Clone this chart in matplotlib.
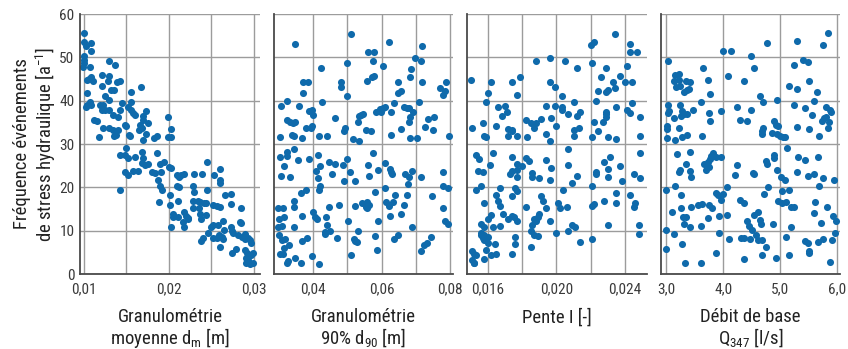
import matplotlib.pyplot as plt
from matplotlib import font_manager

# panel 1: granulometrie moyenne dm [m]
dm = [0.0100, 0.0100, 0.0108, 0.0102, 0.0109, 0.0100, 0.0100, 0.0100, 0.0099, 0.0107,
      0.0129, 0.0137, 0.0104, 0.0109, 0.0111, 0.0106, 0.0121, 0.0130, 0.0128, 0.0139,
      0.0142, 0.0121, 0.0132, 0.0135, 0.0104, 0.0156, 0.0167, 0.0125, 0.0130, 0.0107,
      0.0104, 0.0109, 0.0103, 0.0145, 0.0156, 0.0119, 0.0123, 0.0121, 0.0125, 0.0130,
      0.0134, 0.0140, 0.0143, 0.0152, 0.0156, 0.0158, 0.0160, 0.0173, 0.0170, 0.0169,
      0.0112, 0.0115, 0.0122, 0.0130, 0.0134, 0.0140, 0.0136, 0.0138, 0.0148, 0.0150,
      0.0166, 0.0165, 0.0168, 0.0175, 0.0154, 0.0153, 0.0118, 0.0173, 0.0182, 0.0186,
      0.0199, 0.0203, 0.0199, 0.0203, 0.0170,
      0.0149, 0.0143, 0.0148, 0.0152, 0.0160, 0.0148, 0.0152, 0.0158, 0.0164, 0.0142,
      0.0168, 0.0170, 0.0168, 0.0175, 0.0172, 0.0186, 0.0180, 0.0184, 0.0190, 0.0194,
      0.0191, 0.0200, 0.0202, 0.0187, 0.0190, 0.0192, 0.0188, 0.0210, 0.0214, 0.0218,
      0.0212, 0.0229, 0.0239, 0.0253, 0.0245, 0.0260, 0.0260, 0.0260, 0.0210, 0.0212,
      0.0228, 0.0230, 0.0201, 0.0201, 0.0211, 0.0245, 0.0228, 0.0234, 0.0236, 0.0241,
      0.0243, 0.0228, 0.0235, 0.0252, 0.0257, 0.0260, 0.0266, 0.0273, 0.0273, 0.0285,
      0.0205, 0.0205, 0.0211, 0.0218, 0.0220, 0.0222, 0.0236, 0.0238, 0.0243, 0.0216,
      0.0222, 0.0203, 0.0218, 0.0252, 0.0249, 0.0258, 0.0264, 0.0246, 0.0240, 0.0238,
      0.0252, 0.0256, 0.0259, 0.0262, 0.0265, 0.0264, 0.0260, 0.0273, 0.0275, 0.0274,
      0.0283, 0.0285, 0.0281, 0.0286, 0.0289, 0.0289, 0.0293, 0.0297, 0.0295, 0.0279,
      0.0274, 0.0289, 0.0292, 0.0291, 0.0297, 0.0299, 0.0291, 0.0295, 0.0299, 0.0293]
freq_dm = [55.7, 53.6, 53.2, 52.6, 51.5, 50.2, 49.4, 48.6, 47.7, 47.7,
           49.2, 48.2, 44.8, 45.4, 44.6, 44.9, 45.9, 45.7, 44.6, 44.4,
           44.5, 43.4, 42.5, 42.4, 41.7, 42.1, 43.1, 41.1, 40.2, 39.8,
           39.0, 39.1, 38.6, 39.5, 39.8, 39.0, 39.0, 37.8, 37.8, 37.8,
           36.7, 36.3, 37.8, 38.5, 37.8, 37.1, 36.7, 37.7, 36.5, 35.5,
           35.5, 35.2, 33.6, 33.6, 33.2, 33.2, 31.9, 32.1, 34.4, 34.2,
           34.4, 33.2, 33.8, 34.8, 31.9, 32.1, 31.7, 32.3, 31.3, 31.9,
           36.2, 33.4, 31.7, 31.7, 30.9,
           29.0, 27.5, 27.5, 26.7, 27.1, 23.6, 22.8, 23.8, 23.8, 19.5,
           28.1, 26.7, 25.6, 25.4, 25.2, 28.0, 23.6, 23.4, 25.5, 25.9,
           23.6, 24.8, 24.4, 21.7, 20.2, 19.4, 16.7, 22.8, 22.8, 23.0,
           22.3, 23.1, 23.1, 22.8, 25.9, 24.2, 21.7, 20.9, 20.2, 20.0,
           20.3, 19.0, 18.2, 15.9, 16.9, 19.5, 16.8, 16.8, 16.6, 16.5,
           16.3, 15.3, 15.3, 15.9, 15.7, 15.5, 18.2, 18.5, 16.2, 15.3,
           13.9, 13.1, 13.2, 14.4, 13.4, 13.0, 13.8, 12.6, 13.6, 12.1,
           12.8, 10.9, 10.9, 11.3, 10.8, 11.3, 12.3, 9.5, 8.2, 7.7,
           8.2, 8.2, 9.0, 8.6, 10.1, 8.0, 6.2, 10.9, 9.4, 10.0,
           12.1, 11.7, 9.0, 8.5, 9.2, 8.0, 8.4, 7.2, 7.9, 5.7,
           4.8, 5.5, 4.8, 3.6, 4.4, 4.8, 2.6, 2.3, 2.6, 3.2]

# panel 2: granulometrie 90% d90 [m]
d90 = [0.0347, 0.0510, 0.0621, 0.0717, 0.0560, 0.0579, 0.0500, 0.0576, 0.0605, 0.0697,
       0.0714, 0.0423, 0.0686, 0.0683, 0.0717, 0.0372, 0.0384, 0.0482, 0.0482, 0.0557,
       0.0571, 0.0579, 0.0649, 0.0647, 0.0657, 0.0372, 0.0500, 0.0788, 0.0771, 0.0785,
       0.0780, 0.0323, 0.0307, 0.0425, 0.0360, 0.0388, 0.0396, 0.0401, 0.0708, 0.0635,
       0.0596, 0.0605, 0.0610, 0.0598, 0.0583, 0.0627, 0.0664, 0.0674, 0.0679, 0.0691,
       0.0325, 0.0333, 0.0340, 0.0347, 0.0465, 0.0535, 0.0540, 0.0545, 0.0532, 0.0683,
       0.0681, 0.0735, 0.0754, 0.0727, 0.0749, 0.0657, 0.0379, 0.0393, 0.0398, 0.0493,
       0.0489, 0.0555, 0.0568, 0.0304, 0.0338, 0.0343, 0.0367, 0.0416, 0.0440, 0.0515,
       0.0534, 0.0627, 0.0683, 0.0703, 0.0795,
       0.0343, 0.0304, 0.0323, 0.0323, 0.0316, 0.0307, 0.0333, 0.0357, 0.0389, 0.0414,
       0.0420, 0.0409, 0.0445, 0.0463, 0.0487, 0.0498, 0.0454, 0.0414, 0.0420, 0.0416,
       0.0491, 0.0507, 0.0522, 0.0559, 0.0576, 0.0564, 0.0588, 0.0611, 0.0624, 0.0626,
       0.0629, 0.0611, 0.0581, 0.0667, 0.0681, 0.0688, 0.0678, 0.0714, 0.0780, 0.0779,
       0.0792, 0.0364, 0.0380, 0.0343, 0.0345, 0.0299, 0.0311, 0.0302, 0.0316, 0.0299,
       0.0308, 0.0369, 0.0400, 0.0406, 0.0410, 0.0445, 0.0437, 0.0441, 0.0436, 0.0448,
       0.0345, 0.0477, 0.0503, 0.0522, 0.0543, 0.0557, 0.0555, 0.0562, 0.0557, 0.0532,
       0.0588, 0.0581, 0.0614, 0.0620, 0.0633, 0.0639, 0.0624, 0.0664, 0.0673, 0.0657,
       0.0688, 0.0746, 0.0779, 0.0785, 0.0792, 0.0302, 0.0308, 0.0318, 0.0331, 0.0316,
       0.0304, 0.0311, 0.0328, 0.0325, 0.0347, 0.0364, 0.0367, 0.0383, 0.0396, 0.0418,
       0.0435, 0.0469, 0.0510, 0.0518, 0.0522, 0.0529, 0.0586, 0.0637, 0.0649, 0.0714,
       0.0724, 0.0731, 0.0745]
freq_d90 = [53.0, 55.5, 53.5, 52.7, 51.3, 51.3, 48.8, 49.1, 48.0, 49.9,
            49.2, 47.5, 47.4, 45.5, 44.4, 44.4, 44.2, 44.4, 43.2, 44.6,
            45.5, 45.7, 44.4, 41.8, 42.2, 41.7, 41.0, 44.2, 43.0, 42.3,
            41.3, 40.0, 38.8, 39.6, 38.8, 37.6, 37.8, 36.8, 39.6, 39.4,
            38.0, 38.2, 38.5, 37.5, 37.5, 37.5, 38.6, 38.3, 38.2, 37.5,
            35.5, 35.1, 34.9, 35.0, 36.0, 36.5, 36.8, 37.0, 35.0, 36.2,
            35.0, 35.7, 36.3, 34.0, 33.2, 33.5, 33.8, 33.6, 34.2, 33.6,
            33.0, 33.2, 33.1, 31.7, 32.0, 31.8, 31.5, 31.8, 31.8, 31.1,
            30.8, 32.0, 31.5, 31.5, 31.8,
            28.8, 27.0, 27.2, 28.1, 25.0, 22.7, 22.5, 26.3, 26.5, 27.5,
            25.0, 23.8, 25.9, 25.4, 25.2, 26.5, 23.0, 22.1, 20.3, 19.4,
            21.5, 23.5, 21.5, 25.2, 28.0, 22.7, 24.0, 25.7, 24.2, 23.5,
            23.1, 19.9, 19.0, 23.0, 22.3, 23.8, 20.8, 22.5, 23.5, 20.2,
            19.9, 18.8, 19.4, 16.9, 15.5, 15.2, 15.2, 12.6, 13.1, 10.8,
            11.1, 13.5, 14.2, 13.2, 12.7, 15.4, 13.2, 11.3, 9.6, 10.0,
            10.8, 15.9, 12.2, 15.8, 16.5, 16.7, 15.5, 16.0, 15.3, 10.0,
            12.2, 8.8, 16.7, 15.7, 16.7, 18.2, 13.5, 15.9, 18.2, 13.8,
            10.9, 18.0, 15.2, 12.2, 11.5, 9.0, 7.8, 8.1, 6.7, 5.9,
            4.6, 4.6, 3.1, 2.6, 3.6, 2.5, 7.7, 8.2, 4.2, 2.3,
            9.2, 8.2, 4.4, 8.0, 7.7, 7.5, 5.5, 8.0, 9.0, 5.2,
            6.7, 7.1, 8.5]

# panel 3: pente I [-]
pente = [0.0234, 0.0220, 0.0222, 0.0243, 0.0243, 0.0247, 0.0188, 0.0196, 0.0205, 0.0221,
         0.0212, 0.0229, 0.0241, 0.0150, 0.0162, 0.0174, 0.0179, 0.0196, 0.0199, 0.0226,
         0.0237, 0.0233, 0.0240, 0.0244, 0.0234, 0.0230, 0.0229, 0.0224, 0.0160, 0.0177,
         0.0203, 0.0159, 0.0166, 0.0170, 0.0171, 0.0168, 0.0194, 0.0199, 0.0203, 0.0203,
         0.0207, 0.0210, 0.0212, 0.0214, 0.0223, 0.0235, 0.0244, 0.0241, 0.0243, 0.0229,
         0.0229, 0.0229, 0.0222, 0.0227, 0.0249, 0.0151, 0.0157, 0.0165, 0.0172, 0.0174,
         0.0174, 0.0182, 0.0185, 0.0188, 0.0191, 0.0187, 0.0197, 0.0200, 0.0213, 0.0210,
         0.0224, 0.0159, 0.0158, 0.0172, 0.0177, 0.0183, 0.0194, 0.0196, 0.0210, 0.0221,
         0.0230, 0.0235, 0.0249,
         0.0153, 0.0155, 0.0163, 0.0161, 0.0154, 0.0157, 0.0153, 0.0156, 0.0174, 0.0177,
         0.0177, 0.0174, 0.0173, 0.0177, 0.0180, 0.0182, 0.0184, 0.0186, 0.0186, 0.0190,
         0.0194, 0.0197, 0.0196, 0.0207, 0.0207, 0.0212, 0.0209, 0.0223, 0.0223, 0.0228,
         0.0231, 0.0230, 0.0230, 0.0237, 0.0238, 0.0249, 0.0245, 0.0249, 0.0167, 0.0165,
         0.0166, 0.0167, 0.0158, 0.0176, 0.0177, 0.0174, 0.0182, 0.0191, 0.0192, 0.0194,
         0.0201, 0.0202, 0.0204, 0.0206, 0.0221, 0.0221, 0.0222, 0.0228, 0.0235, 0.0235,
         0.0243, 0.0246, 0.0245, 0.0169, 0.0172, 0.0174, 0.0175, 0.0177, 0.0162, 0.0160,
         0.0156, 0.0158, 0.0163, 0.0167, 0.0187, 0.0189, 0.0188, 0.0190, 0.0196, 0.0209,
         0.0211, 0.0207, 0.0200, 0.0230, 0.0248, 0.0248, 0.0156, 0.0157, 0.0158, 0.0159,
         0.0160, 0.0160, 0.0156, 0.0158, 0.0164, 0.0165, 0.0162, 0.0159, 0.0176, 0.0176,
         0.0174, 0.0185, 0.0186, 0.0187, 0.0189, 0.0185, 0.0214, 0.0221, 0.0151, 0.0152,
         0.0153, 0.0151, 0.0152, 0.0152, 0.0158]
freq_pente = [55.5, 52.8, 53.6, 53.1, 51.3, 51.3, 49.2, 49.9, 49.2, 48.8,
              47.5, 47.5, 48.1, 44.8, 44.2, 44.4, 45.5, 44.4, 43.2, 45.5,
              45.8, 44.4, 44.4, 44.2, 43.0, 42.4, 42.1, 42.2, 41.7, 41.3,
              41.1, 39.6, 38.6, 38.8, 37.5, 36.5, 38.8, 38.8, 38.5, 37.8,
              36.9, 39.6, 36.5, 37.5, 40.0, 38.6, 39.4, 37.8, 37.2, 37.5,
              36.9, 36.3, 35.0, 35.0, 36.2, 33.6, 34.9, 34.2, 33.5, 33.3,
              33.1, 35.5, 34.9, 34.8, 35.8, 33.6, 36.0, 34.2, 33.8, 33.2,
              33.1, 31.7, 31.9, 31.9, 31.9, 31.7, 32.2, 30.8, 31.9, 31.7,
              31.7, 31.1, 31.9,
              27.5, 26.5, 28.0, 25.2, 23.8, 23.5, 19.4, 20.2, 26.9, 25.4,
              24.0, 23.7, 23.1, 22.5, 24.9, 26.7, 26.0, 23.2, 22.4, 22.2,
              26.3, 24.4, 21.7, 28.8, 25.2, 22.7, 20.9, 23.5, 23.0, 25.8,
              26.9, 24.2, 22.5, 25.0, 21.5, 28.0, 23.0, 22.1, 19.9, 18.2,
              16.9, 15.8, 16.5, 19.9, 19.2, 18.0, 15.5, 18.1, 16.8, 15.2,
              16.5, 15.2, 19.4, 15.5, 20.2, 15.8, 16.1, 16.8, 18.8, 16.5,
              18.2, 16.5, 15.5, 13.8, 12.8, 13.3, 13.1, 12.3, 13.6, 12.8,
              11.5, 10.8, 10.8, 11.1, 12.7, 13.1, 12.2, 13.8, 12.2, 11.3,
              10.8, 10.0, 9.4, 11.3, 11.3, 9.2, 9.0, 8.3, 7.8, 7.9,
              8.6, 7.1, 9.4, 9.0, 6.9, 4.6, 4.4, 5.5, 8.5, 6.9,
              4.6, 10.0, 11.4, 8.9, 8.7, 6.2, 7.5, 8.0, 5.4, 4.6,
              4.4, 3.3, 2.5, 2.6, 3.4]

# panel 4: debit de base Q347 [l/s]
debit = [5.84, 5.29, 5.75, 4.77, 4.00, 4.14, 4.49, 5.40, 5.49, 3.03,
         5.25, 3.65, 4.54, 4.08, 3.15, 3.22, 3.13, 3.22, 3.35, 3.41,
         3.74, 4.36, 5.50, 3.18, 3.25, 3.32, 3.37, 3.40, 3.77, 5.15,
         5.29, 5.64, 4.64, 4.70, 4.94, 5.59, 3.03, 3.05, 3.03, 3.25,
         3.61, 3.27, 3.31, 3.26, 3.36, 3.13, 3.47, 3.76, 3.77, 3.96,
         4.25, 4.30, 4.42, 4.49, 4.89, 5.25, 5.44, 5.56, 5.80, 5.87,
         5.89, 5.81, 5.77, 5.85, 5.73, 3.01, 3.01, 3.22, 3.01, 3.15,
         3.28, 3.37, 3.63, 4.70, 4.68, 4.68, 4.85, 4.93, 4.97, 4.95,
         5.00, 5.05, 5.08, 5.30, 5.50, 5.69, 5.84,
         3.19, 3.41, 3.34, 3.25, 3.22, 3.41, 3.44, 3.67, 3.73, 3.77,
         3.79, 3.82, 3.88, 3.96, 3.70, 3.75, 4.24, 4.20, 4.53, 4.55,
         4.75, 4.77, 4.90, 4.90, 4.94, 5.12, 5.31, 5.44, 5.66, 5.29,
         5.48, 5.59, 5.75, 5.94, 5.69, 5.01, 5.08, 4.78, 5.03, 5.15,
         4.72, 3.15, 2.99, 3.26, 3.87, 3.91, 3.99, 3.96, 4.06, 4.29,
         4.36, 4.96, 5.03, 5.10, 5.19, 5.25, 5.62, 5.82, 3.10, 3.26,
         3.43, 3.56, 3.63, 3.76, 3.81, 3.30, 3.35, 3.73, 3.92, 4.06,
         4.42, 4.55, 4.61, 4.64, 4.67, 4.87, 5.60, 5.92, 5.98, 5.71,
         3.31, 3.41, 3.61, 4.45, 4.50, 5.19, 3.00, 3.13, 3.92, 4.11,
         4.32, 4.36, 4.47, 4.58, 4.61, 4.68, 4.75, 5.10, 5.44, 5.48,
         5.66, 5.76, 5.96, 5.91, 3.28, 3.00, 5.50, 5.50, 3.88, 4.68,
         4.92, 5.16, 4.36, 3.33, 3.61, 5.88]
freq_debit = [55.7, 53.8, 52.8, 53.2, 51.5, 51.5, 50.2, 49.4, 49.0, 49.2,
              48.2, 47.6, 47.6, 45.7, 45.9, 46.1, 44.6, 44.7, 44.6, 44.4,
              44.8, 44.6, 44.5, 43.2, 43.4, 42.1, 42.4, 42.6, 41.5, 43.4,
              42.6, 42.1, 41.1, 39.8, 40.2, 39.9, 39.0, 37.7, 37.2, 39.0,
              39.6, 37.7, 37.0, 36.5, 36.9, 35.9, 37.8, 37.1, 35.2, 37.6,
              38.6, 35.5, 35.2, 37.8, 35.2, 39.0, 38.4, 36.7, 38.6, 37.8,
              37.5, 36.3, 36.1, 35.0, 35.2, 33.4, 34.2, 33.6, 31.3, 31.0,
              31.7, 32.0, 31.9, 33.6, 33.1, 32.3, 32.5, 34.4, 34.2, 32.3,
              31.9, 31.7, 31.7, 34.0, 33.5, 31.9, 33.6,
              27.6, 28.1, 25.4, 24.0, 23.5, 23.7, 22.3, 25.4, 25.9, 26.6,
              27.2, 28.0, 27.0, 27.0, 24.1, 24.6, 25.2, 22.8, 23.2, 23.0,
              26.0, 25.3, 27.4, 26.7, 24.0, 29.0, 27.1, 26.2, 27.1, 23.6,
              22.6, 23.0, 22.2, 21.7, 20.3, 22.3, 21.7, 20.0, 19.2, 19.5,
              18.5, 20.3, 19.5, 18.2, 18.8, 18.2, 18.4, 17.1, 20.0, 17.1,
              16.5, 16.9, 16.3, 16.6, 15.4, 15.5, 16.7, 15.5, 14.2, 15.3,
              15.5, 15.9, 16.2, 15.9, 15.3, 13.1, 13.1, 12.9, 13.4, 13.6,
              12.3, 13.6, 14.4, 12.5, 11.5, 11.5, 14.0, 13.4, 12.3, 11.8,
              11.5, 10.9, 11.1, 11.1, 10.2, 10.9, 10.2, 9.2, 9.5, 8.1,
              8.4, 8.4, 8.1, 9.0, 7.8, 7.8, 6.2, 8.6, 7.6, 7.1,
              7.3, 8.1, 9.5, 7.8, 6.9, 5.7, 5.2, 4.8, 4.8, 4.4,
              3.6, 4.4, 3.4, 2.5, 2.5, 2.8]

blue = '#0f6aab'
grey_txt = '#3a3a3a'

# narrow face if there is one, else Roboto
installed = {f.name for f in font_manager.fontManager.ttflist}
font = 'Roboto'
for name in ['Liberation Sans Narrow', 'Roboto Condensed', 'Open Sans Condensed']:
    if name in installed:
        font = name
        break
plt.rcParams['font.family'] = [font, 'DejaVu Sans']
plt.rcParams['mathtext.fontset'] = 'custom'
plt.rcParams['mathtext.rm'] = font

fs_tick = 11 if font != 'Roboto' else 10
fs_lab = 13.5 if font != 'Roboto' else 12

fig = plt.figure(figsize=(8.48, 3.49), dpi=100)

panels = [
    (dm, freq_dm, (0.00955, 0.0307), [0.01, 0.02, 0.03], ['0,01', '0,02', '0,03'], [0.015, 0.025],
     'Granulométrie\nmoyenne $\\mathregular{d_m}$ [m]', 80, 180),
    (d90, freq_d90, (0.0286, 0.0808), [0.04, 0.06, 0.08], ['0,04', '0,06', '0,08'], [0.05, 0.07],
     'Granulométrie\n90% $\\mathregular{d_{90}}$ [m]', 274, 179),
    (pente, freq_pente, (0.01478, 0.02528), [0.016, 0.020, 0.024], ['0,016', '0,020', '0,024'], [0.018, 0.022],
     'Pente I [-]\n', 467, 180),
    (debit, freq_debit, (2.91, 6.05), [3, 4, 5, 6], ['3,0', '4,0', '5,0', '6,0'], [],
     'Débit de base\n$\\mathregular{Q_{347}}$ [l/s]', 661, 179),
]

for i, (x, y, xlim, major, labels, minor, xlabel, left, width) in enumerate(panels):
    ax = fig.add_axes([left / 848, 75 / 349, width / 848, 260 / 349])
    ax.scatter(x, y, s=26, color=blue, linewidths=0, zorder=3, clip_on=False)
    ax.set_xlim(*xlim)
    ax.set_ylim(0, 60)
    ax.set_xticks(major)
    ax.set_xticklabels(labels)
    ax.set_xticks(minor, minor=True)
    ax.set_yticks(range(0, 61, 10))
    ax.grid(True, which='both', color='#9c9c9c', lw=1.0, zorder=0)
    ax.tick_params(which='both', length=0, labelsize=fs_tick, colors=grey_txt)
    ax.tick_params(axis='x', pad=6)
    ax.tick_params(axis='y', pad=4)
    for s in ['top', 'right']:
        ax.spines[s].set_visible(False)
    for s in ['left', 'bottom']:
        ax.spines[s].set_color('#4a4a4a')
        ax.spines[s].set_linewidth(1.3)
        ax.spines[s].set_zorder(4)
    ax.set_xlabel(xlabel, fontsize=fs_lab, color='#222222', labelpad=8.5, linespacing=1.0)
    if i == 0:
        ax.set_ylabel('Fréquence événements\nde stress hydraulique [$\\mathregular{a^{-1}}$]',
                      fontsize=fs_lab, color='#222222', labelpad=1, linespacing=1.15)
    else:
        ax.set_yticklabels([])

fig.savefig('out.png', dpi=100)
